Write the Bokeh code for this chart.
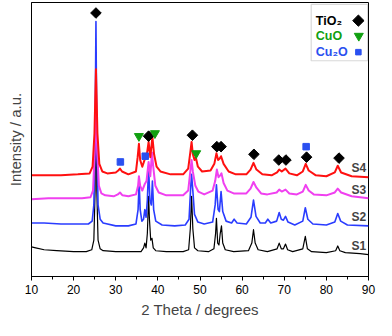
from bokeh.plotting import figure
from bokeh.models import SingleIntervalTicker, FixedTicker, Range1d, BoxAnnotation, Label
from bokeh.embed import file_html
from bokeh.resources import INLINE
from math import pi

# ---- data (2theta in degrees, intensity in a.u.) ----
s1_x = [10, 11, 13, 16, 20, 23, 24.3, 24.8, 25.1, 25.3, 25.5, 25.8, 26.3, 27, 30, 33, 36, 36.6, 36.9, 37.2, 37.5, 37.8, 38.0, 38.3, 38.6, 38.9, 39.5, 42, 46, 47.3, 47.7, 48.0, 48.3, 48.7, 49.5, 52, 53.3, 53.7, 53.9, 54.2, 54.5, 54.8, 55.1, 55.4, 56, 58, 61.5, 62.3, 62.7, 63.1, 63.8, 66, 68.3, 68.8, 69.3, 69.8, 70.3, 70.8, 72, 74.4, 75.0, 75.5, 76.5, 80, 82.2, 82.7, 83.2, 84.5, 88, 90]
s1_y = [31, 30, 28, 27, 26, 26, 28, 38, 90, 230, 90, 38, 29, 27, 26, 26, 26, 30, 35, 30, 45, 84, 60, 38, 40, 30, 27, 26, 26, 28, 50, 84, 50, 30, 27, 26, 29, 45, 61, 35, 33, 45, 53, 35, 28, 26, 27, 35, 49, 35, 28, 26, 29, 35, 29, 29, 34, 28, 26, 29, 42, 29, 26, 25, 27, 32, 27, 25, 24, 23]

s2_x = [10, 13, 17, 21, 23.5, 24.4, 24.8, 25.1, 25.3, 25.5, 25.8, 26.3, 27, 30, 33, 34.8, 35.3, 35.55, 35.8, 36.2, 36.6, 36.9, 37.2, 37.5, 37.8, 38.1, 38.45, 38.7, 39.0, 39.5, 41, 44, 46.5, 47.4, 47.75, 48.0, 48.3, 48.7, 49.5, 51, 53, 53.6, 53.9, 54.3, 54.6, 55.0, 55.4, 56.2, 57.5, 58.1, 58.8, 61, 62.1, 62.7, 63.3, 64.3, 65.5, 66.1, 66.8, 68.2, 68.8, 69.3, 69.8, 70.3, 70.9, 72.5, 74.4, 75.0, 75.6, 76.8, 80, 82.0, 82.7, 83.4, 85, 90]
s2_y = [56, 56, 55, 55, 55, 58, 75, 150, 267, 150, 75, 60, 56, 53, 53, 55, 70, 99, 70, 58, 60, 70, 62, 80, 115, 80, 75, 100, 70, 58, 54, 53, 54, 60, 90, 107, 90, 65, 57, 55, 57, 75, 96, 70, 68, 89, 68, 58, 56, 60, 56, 55, 62, 80, 63, 56, 56, 60, 56, 58, 67, 60, 59, 63, 57, 54, 58, 72, 60, 55, 54, 57, 66, 58, 54, 53]

s3_x = [10, 14, 18, 22, 24, 24.6, 25.0, 25.3, 25.6, 26.0, 26.6, 27.5, 29.5, 30.5, 31.0, 31.6, 33, 34.8, 35.3, 35.5, 35.8, 36.3, 36.9, 37.3, 37.8, 38.2, 38.6, 38.9, 39.4, 40.2, 42, 46, 47.2, 47.7, 48.0, 48.3, 48.9, 49.6, 51, 53, 53.6, 54.0, 54.4, 54.8, 55.1, 55.6, 56.5, 58, 61, 62.0, 62.7, 63.4, 64.5, 66, 68.2, 68.8, 69.4, 70.3, 71.2, 73, 74.4, 75.1, 75.8, 77, 80, 82.0, 82.7, 83.5, 86, 90]
s3_y = [81, 82, 82, 82, 83, 90, 130, 195, 130, 95, 87, 85, 84, 86, 88, 85, 84, 86, 95, 105, 95, 90, 97, 100, 120, 105, 130, 115, 95, 88, 85, 85, 90, 110, 122, 110, 95, 89, 86, 90, 100, 112, 104, 106, 108, 98, 90, 87, 87, 92, 99, 93, 87, 86, 88, 91, 89, 91, 87, 86, 89, 96, 90, 86, 85, 88, 92, 88, 84, 82]

s4_x = [10, 13, 17, 21, 23.8, 24.5, 24.95, 25.3, 25.65, 26.1, 26.8, 28, 30, 30.6, 31.0, 31.5, 33, 34.8, 35.2, 35.5, 35.8, 36.3, 36.9, 37.3, 37.8, 38.2, 38.7, 39.1, 39.7, 40.6, 43, 46, 47.2, 47.7, 48.0, 48.3, 48.7, 49.0, 49.5, 50.5, 52.5, 53.4, 53.9, 54.3, 54.6, 55.0, 55.6, 56.8, 58.5, 61, 62.0, 62.7, 63.4, 64.8, 67, 68.3, 68.8, 69.4, 70.3, 71.2, 73, 74.4, 75.1, 75.8, 77.5, 80, 82.0, 82.7, 83.5, 86, 90]
s4_y = [106, 106, 106, 107, 108, 115, 150, 217, 150, 118, 110, 108, 109, 111, 113, 110, 107, 110, 125, 139, 122, 115, 123, 125, 141, 125, 146, 128, 115, 110, 107, 107, 113, 130, 141, 128, 122, 125, 115, 110, 111, 118, 129, 122, 123, 126, 118, 110, 107, 107, 112, 119, 112, 107, 106, 109, 112, 110, 113, 108, 106, 110, 118, 111, 106, 105, 109, 116, 109, 105, 104]

series_names = ["S1", "S2", "S3", "S4"]
series_label_y = [32, 62, 91, 114]

# phase markers (peak position, marker height)
tio2_x = [25.3, 37.8, 48.2, 54.0, 55.0, 62.8, 68.7, 70.4, 75.3, 83.0]
tio2_y = [276, 147, 148, 136, 136, 128, 122, 122, 125, 124]
cuo_x = [35.5, 39.3, 49.1]
cuo_y = [147, 150, 129]
cu2o_x = [31.1, 37.0, 75.2]
cu2o_y = [120, 126, 136]

legend_names = ["TiO\u2082", "CuO", "Cu\u2082O"]

# ---- styles ----
FONT = "Liberation Sans"
C_S = ["#000000", "#2a3cff", "#f040f0", "#ff1010"]
W_S = [1.2, 1.6, 2.0, 2.0]
GREEN = "#10a010"
BLUE = "#2a50f0"

p = figure(width=376, height=320, output_backend="svg", toolbar_location=None,
           x_range=Range1d(10, 90), y_range=Range1d(0, 287),
           min_border_left=31, min_border_right=8, min_border_top=2, min_border_bottom=10)
p.xgrid.visible = False
p.ygrid.visible = False
p.outline_line_color = "black"
p.outline_line_width = 1
p.background_fill_color = "white"
p.border_fill_color = "white"

# legend box (drawn beneath the glyphs)
p.add_layout(BoxAnnotation(left=76.4, right=89.8, top=285, bottom=226, level="underlay",
                           fill_color="white", fill_alpha=1, line_color="#808080", line_width=1.2))

for xs, ys, c, w in zip([s1_x, s2_x, s3_x, s4_x], [s1_y, s2_y, s3_y, s4_y], C_S, W_S):
    p.line(xs, ys, line_color=c, line_width=w, line_join="round")

p.scatter(tio2_x, tio2_y, marker="square", angle=pi / 4, size=7.5, fill_color="black", line_color="black")
p.scatter(cuo_x, cuo_y, marker="inverted_triangle", size=9, fill_color=GREEN, line_color=GREEN)
p.scatter(cu2o_x, cu2o_y, marker="square", size=6.5, fill_color=BLUE, line_color=BLUE)

# series labels
for name, yy in zip(series_names, series_label_y):
    p.add_layout(Label(x=87.7, y=yy, text=name, text_font=FONT, text_font_size="12px",
                       text_font_style="bold", text_align="center", text_baseline="middle"))

leg_y = [268, 252, 235]
leg_c = ["black", GREEN, BLUE]
for name, yy, c in zip(legend_names, leg_y, leg_c):
    p.add_layout(Label(x=77.5, y=yy, text=name, text_font=FONT, text_font_size="12.5px",
                       text_font_style="bold", text_color=c, text_baseline="middle"))
p.scatter([87.6], [leg_y[0]], marker="square", angle=pi / 4, size=8, fill_color="black", line_color="black")
p.scatter([87.7], [leg_y[1]], marker="inverted_triangle", size=9, fill_color=GREEN, line_color=GREEN)
p.scatter([87.6], [leg_y[2]], marker="square", size=5.5, fill_color=BLUE, line_color=BLUE)

# axes
xa = p.xaxis[0]
xa.ticker = SingleIntervalTicker(interval=10, num_minor_ticks=2)
xa.axis_label = "2 Theta / degrees"
xa.axis_label_text_font = FONT
xa.axis_label_text_font_size = "15px"
xa.axis_label_text_font_style = "normal"
xa.axis_label_standoff = 4
xa.major_label_text_font = FONT
xa.major_label_text_font_size = "12px"
xa.major_label_text_color = "black"
xa.major_label_standoff = 4
xa.major_tick_out = 4
xa.major_tick_in = 0
xa.minor_tick_out = 3
xa.minor_tick_in = 0
xa.axis_line_color = "black"
xa.major_tick_line_color = "black"
xa.minor_tick_line_color = "black"

ya = p.yaxis[0]
ya.ticker = FixedTicker(ticks=[])
ya.axis_label = "Intensity / a.u."
ya.axis_label_text_font = FONT
ya.axis_label_text_font_size = "15px"
ya.axis_label_text_font_style = "normal"
ya.axis_label_standoff = 8
ya.axis_line_color = "black"
ya.major_tick_out = 0
ya.minor_tick_out = 0

open("out.html", "w").write(file_html(p, INLINE))
